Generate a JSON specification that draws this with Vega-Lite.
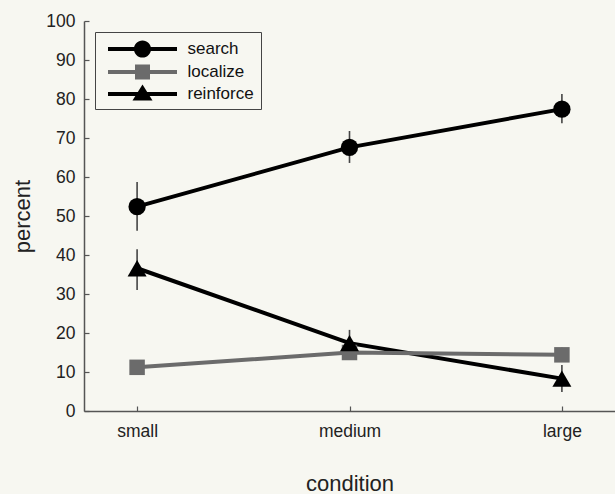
{
  "$schema": "https://vega.github.io/schema/vega-lite/v6.json",
  "width": 531,
  "height": 390,
  "padding": {"left": 11, "top": 12, "right": 0, "bottom": 0},
  "background": "#f7f7f1",
  "config": {
    "view": {"stroke": null},
    "font": "Liberation Sans",
    "axis": {
      "domainColor": "#555555",
      "domainWidth": 1.5,
      "tickColor": "#555555",
      "tickWidth": 1.2,
      "tickSize": -5,
      "grid": false,
      "labelFontSize": 17.5,
      "labelColor": "#222222",
      "titleFontSize": 22,
      "titleFontWeight": "normal",
      "titleColor": "#222222"
    },
    "legend": {
      "orient": "top-left",
      "offset": 11,
      "labelFontSize": 17,
      "labelColor": "#111111",
      "labelOffset": 35,
      "symbolOffset": 30.5,
      "symbolSize": 400,
      "strokeColor": "#444444",
      "padding": 7,
      "rowPadding": 4,
      "symbolOpacity": 1,
      "symbolStrokeWidth": 0
    }
  },
  "data": {
    "values": [
      {"series": "search", "condition": "small", "value": 52.4, "lo": 46.2, "hi": 58.7},
      {"series": "search", "condition": "medium", "value": 67.6, "lo": 63.6, "hi": 71.8},
      {"series": "search", "condition": "large", "value": 77.4, "lo": 73.8, "hi": 81.3},
      {"series": "localize", "condition": "small", "value": 11.2, "lo": 9.6, "hi": 12.8},
      {"series": "localize", "condition": "medium", "value": 15.0, "lo": 13.4, "hi": 16.6},
      {"series": "localize", "condition": "large", "value": 14.4, "lo": 12.6, "hi": 16.2},
      {"series": "reinforce", "condition": "small", "value": 36.6, "lo": 31.0, "hi": 41.5},
      {"series": "reinforce", "condition": "medium", "value": 17.4, "lo": 14.5, "hi": 20.8},
      {"series": "reinforce", "condition": "large", "value": 8.3, "lo": 4.9, "hi": 11.8}
    ]
  },
  "encoding": {
    "x": {
      "field": "condition",
      "type": "nominal",
      "sort": ["small", "medium", "large"],
      "scale": {"type": "point", "padding": 0.25},
      "axis": {"labelAngle": 0, "title": "condition", "labelPadding": 16, "titlePadding": 34}
    },
    "y": {
      "field": "value",
      "type": "quantitative",
      "scale": {"domain": [0, 100], "nice": false},
      "axis": {"tickCount": 10, "labelOverlap": false, "title": "percent", "labelPadding": 14, "titlePadding": 11}
    }
  },
  "layer": [
    {
      "mark": {"type": "rule", "color": "#444444", "strokeWidth": 1.6},
      "encoding": {
        "y": {"field": "lo", "type": "quantitative"},
        "y2": {"field": "hi"}
      }
    },
    {
      "transform": [{"filter": "datum.series != 'localize'"}],
      "mark": {"type": "line", "strokeWidth": 4, "color": "#000000"},
      "encoding": {"detail": {"field": "series"}}
    },
    {
      "transform": [{"filter": "datum.series == 'localize'"}],
      "mark": {"type": "line", "strokeWidth": 4, "color": "#6b6b6b"},
      "encoding": {}
    },
    {
      "transform": [{"filter": "datum.series == 'search'"}],
      "mark": {"type": "point", "shape": "circle", "filled": true, "opacity": 1, "size": 300, "color": "#000000"}
    },
    {
      "transform": [{"filter": "datum.series == 'localize'"}],
      "mark": {"type": "point", "shape": "square", "filled": true, "opacity": 1, "size": 240, "color": "#6b6b6b"}
    },
    {
      "transform": [{"filter": "datum.series == 'reinforce'"}],
      "mark": {"type": "point", "shape": "triangle-up", "filled": true, "opacity": 1, "size": 360, "color": "#000000"}
    },
    {
      "mark": {"type": "point", "filled": true, "opacity": 0, "size": 400},
      "encoding": {
        "color": {
          "field": "series",
          "type": "nominal",
          "title": null,
          "scale": {"domain": ["search", "localize", "reinforce"], "range": ["#000000", "#6b6b6b", "#000000"]}
        },
        "shape": {
          "field": "series",
          "type": "nominal",
          "title": null,
          "scale": {
            "domain": ["search", "localize", "reinforce"],
            "range": [
              "M-3.45,-0.2H-0.5V0.2H-3.45Z M0.5,-0.2H3.45V0.2H0.5Z M-0.86,0A0.86,0.86 0 1,1 0.86,0A0.86,0.86 0 1,1 -0.86,0Z",
              "M-3.45,-0.2H-0.5V0.2H-3.45Z M0.5,-0.2H3.45V0.2H0.5Z M-0.75,-0.75H0.75V0.75H-0.75Z",
              "M-3.45,-0.2H-0.4V0.2H-3.45Z M0.4,-0.2H3.45V0.2H0.4Z M0,-0.95L1,0.65H-1Z"
            ]
          }
        }
      }
    }
  ]
}
